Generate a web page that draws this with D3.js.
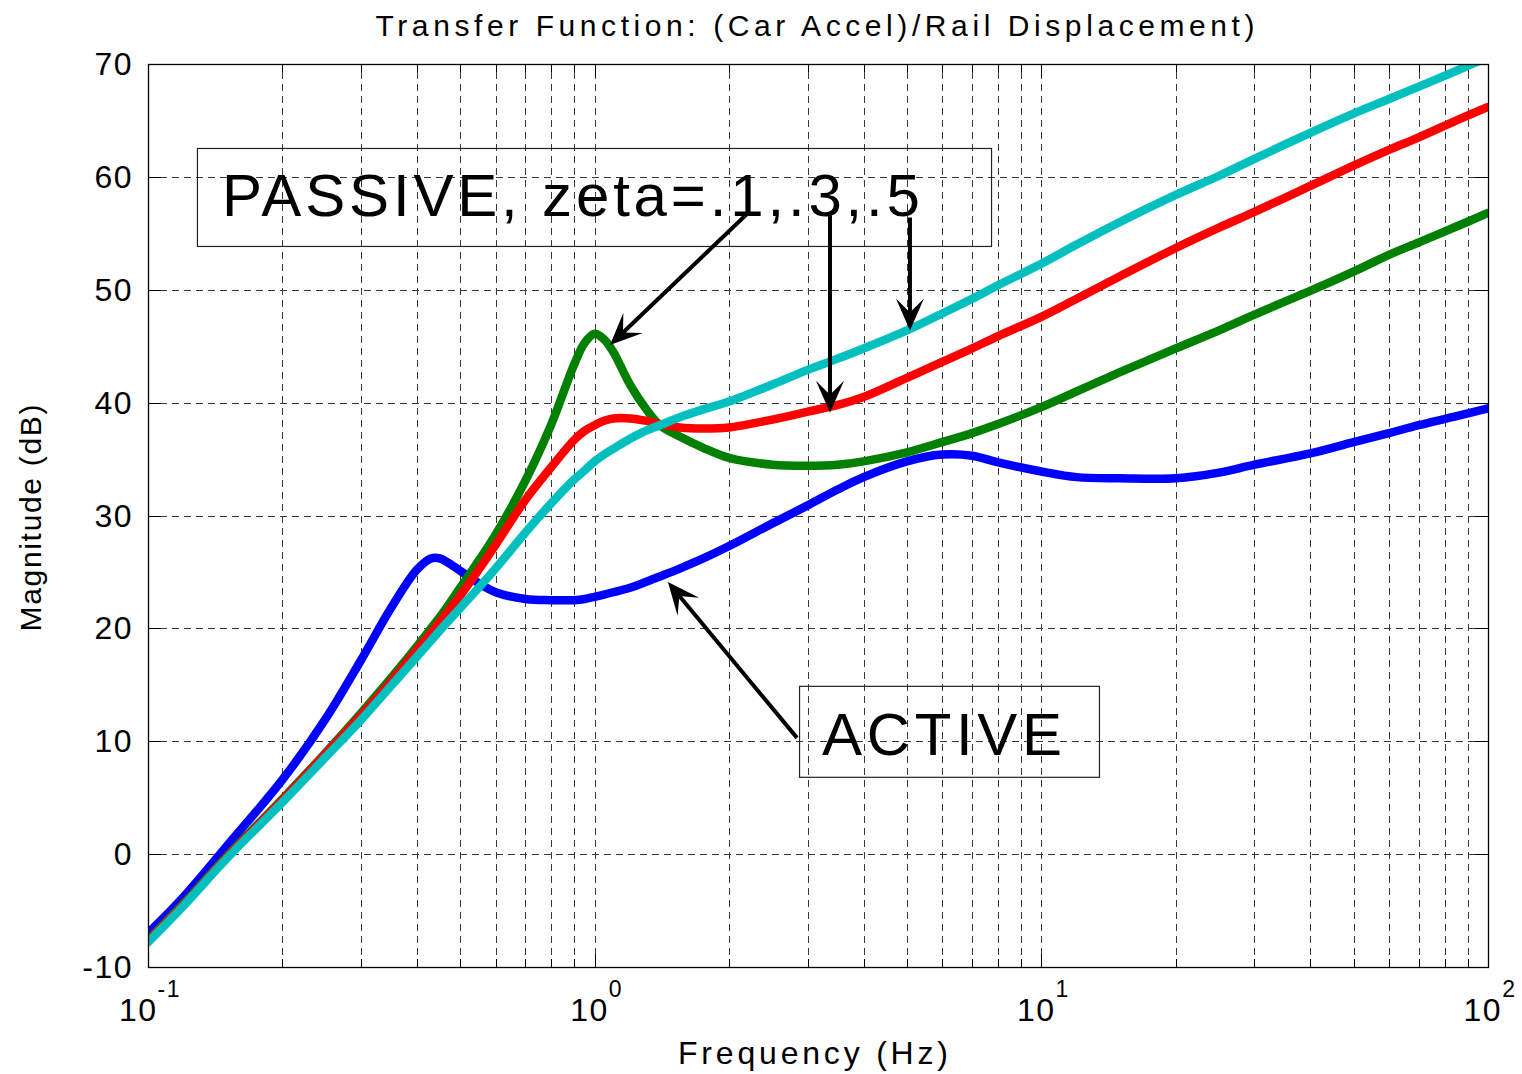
<!DOCTYPE html>
<html>
<head>
<meta charset="utf-8">
<script src="https://cdn.jsdelivr.net/npm/d3@7"></script>
<style>
  html, body { margin: 0; padding: 0; background: #fff; }
  svg { display: block; }
  text { font-family: "Liberation Sans", Arial, Helvetica, sans-serif; fill: #000; }
</style>
</head>
<body>
<svg id="chart" width="1522" height="1074"></svg>
<script>
// ---------------- DATA ----------------
const freq = [0.1, 0.12, 0.15, 0.2, 0.25, 0.3, 0.35, 0.4, 0.43, 0.45, 0.5, 0.55, 0.6, 0.7, 0.8, 0.9, 0.95,
              1.0, 1.05, 1.1, 1.2, 1.3, 1.4, 1.55, 1.75, 2.0, 2.5, 3.0, 3.5, 4.0, 5.0, 6.0, 7.0, 8.0,
              10, 12, 15, 20, 25, 30, 40, 50, 60, 70, 85, 100];

// ACTIVE (blue)
const activeMag = [-7.0, -3.8, 0.7, 6.6, 12.0, 17.2, 21.8, 25.2, 26.2, 26.2, 25.1, 24.0, 23.2, 22.6, 22.5, 22.5, 22.6,
                   22.8, 23.0, 23.2, 23.6, 24.1, 24.6, 25.3, 26.2, 27.3, 29.3, 30.9, 32.3, 33.4, 34.8, 35.4, 35.3, 34.7,
                   33.9, 33.4, 33.3, 33.3, 33.8, 34.5, 35.5, 36.5, 37.3, 38.0, 38.8, 39.5];

// PASSIVE zeta = .1 (green)
const passive1Mag = [-7.6, -4.4, -0.2, 4.9, 9.0, 12.5, 15.6, 18.4, 20.0, 21.0, 23.6, 26.0, 28.3, 33.1, 38.1, 43.4, 45.3,
                     46.1, 45.6, 44.5, 41.6, 39.5, 38.0, 37.0, 36.0, 35.1, 34.5, 34.4, 34.5, 34.8, 35.6, 36.5, 37.3, 38.1,
                     39.6, 41.0, 42.7, 44.8, 46.4, 47.8, 49.9, 51.6, 53.1, 54.2, 55.6, 56.8];

// PASSIVE zeta = .3 (red)
const passive3Mag = [-7.7, -4.5, -0.3, 4.8, 8.9, 12.3, 15.3, 18.1, 19.6, 20.6, 22.9, 25.2, 27.4, 31.4, 34.3, 36.7, 37.5,
                     38.0, 38.4, 38.6, 38.6, 38.4, 38.1, 37.8, 37.7, 37.8, 38.5, 39.2, 39.8, 40.5, 42.2, 43.6, 44.8, 45.9,
                     47.6, 49.2, 51.2, 53.7, 55.5, 56.9, 59.2, 61.0, 62.4, 63.5, 65.0, 66.2];

// PASSIVE zeta = .5 (cyan)
const passive5Mag = [-7.8, -4.6, -0.4, 4.6, 8.6, 11.9, 14.9, 17.5, 18.9, 19.8, 21.8, 23.6, 25.3, 28.5, 31.1, 33.2, 34.0,
                     34.8, 35.4, 35.9, 36.8, 37.5, 38.0, 38.7, 39.4, 40.1, 41.6, 42.9, 43.9, 44.8, 46.4, 47.9, 49.2, 50.4,
                     52.3, 54.0, 56.0, 58.4, 60.1, 61.6, 63.9, 65.6, 66.9, 68.0, 69.4, 70.6];

const seriesNames  = ["ACTIVE", "zeta=.1", "zeta=.3", "zeta=.5"];
const seriesColors = ["#0000ff", "#008000", "#ff0000", "#00bfbf"];
const seriesValues = [activeMag, passive1Mag, passive3Mag, passive5Mag];

const yTicks = [-10, 0, 10, 20, 30, 40, 50, 60, 70];
const xMajorTicks = [0.1, 1, 10, 100];
const xMajorExp = ["-1", "0", "1", "2"];

const titleText = "Transfer Function: (Car Accel)/Rail Displacement)";
const xLabelText = "Frequency (Hz)";
const yLabelText = "Magnitude (dB)";
const passiveText = "PASSIVE, zeta=.1,.3,.5";
const activeText = "ACTIVE";

// annotation arrows in data units: [fromFreq, fromDb, toFreq, toDb]
const arrowsData = [
  [2.204, 56.8, 1.082, 45.1],
  [3.364, 56.6, 3.364, 39.1],
  [5.08, 56.4, 5.08, 46.4],
  [2.838, 10.3, 1.459, 24.1]
];

// ---------------- CHART ----------------
const svg = d3.select("#chart");
const x = d3.scaleLog().domain([0.1, 100]).range([148, 1488]);
const y = d3.scaleLinear().domain([-10, 70]).range([967, 64]);
const [x0, x1] = x.range();
const [yb, yt] = y.range();

// minor x grid positions
const xMinor = [];
for (let d = 0.1; d < 100; d *= 10) {
  for (let k = 2; k <= 9; k++) xMinor.push(+(d * k).toPrecision(3));
}
const xGridAll = xMinor.concat([1, 10]);

// grid
const grid = svg.append("g").attr("stroke", "#3a3a3a").attr("stroke-width", 1)
  .attr("stroke-dasharray", "7,5").attr("shape-rendering", "crispEdges").attr("fill", "none");
grid.selectAll("line.v").data(xGridAll).join("line")
  .attr("x1", d => Math.round(x(d)) + 0.5).attr("x2", d => Math.round(x(d)) + 0.5)
  .attr("y1", yb).attr("y2", yt);
grid.selectAll("line.h").data(yTicks.filter(v => v > -10 && v < 70)).join("line")
  .attr("y1", d => Math.round(y(d)) + 0.5).attr("y2", d => Math.round(y(d)) + 0.5)
  .attr("x1", x0).attr("x2", x1);

// ticks (inward, all four sides)
const ticks = svg.append("g").attr("stroke", "#000").attr("stroke-width", 1).attr("shape-rendering", "crispEdges");
const majL = 13, minL = 8;
yTicks.forEach(v => {
  const yy = Math.round(y(v)) + 0.5;
  ticks.append("line").attr("x1", x0).attr("x2", x0 + majL).attr("y1", yy).attr("y2", yy);
  ticks.append("line").attr("x1", x1 - majL).attr("x2", x1).attr("y1", yy).attr("y2", yy);
});
xMajorTicks.forEach(v => {
  const xx = Math.round(x(v)) + 0.5;
  ticks.append("line").attr("x1", xx).attr("x2", xx).attr("y1", yb).attr("y2", yb - majL);
  ticks.append("line").attr("x1", xx).attr("x2", xx).attr("y1", yt).attr("y2", yt + majL);
});
xMinor.forEach(v => {
  const xx = Math.round(x(v)) + 0.5;
  ticks.append("line").attr("x1", xx).attr("x2", xx).attr("y1", yb).attr("y2", yb - minL);
  ticks.append("line").attr("x1", xx).attr("x2", xx).attr("y1", yt).attr("y2", yt + minL);
});

// clip
svg.append("defs").append("clipPath").attr("id", "plotClip")
  .append("rect").attr("x", x0).attr("y", yt).attr("width", x1 - x0).attr("height", yb - yt);

// curves
const line = d3.line().curve(d3.curveCatmullRom.alpha(0.5)).x(d => x(d[0])).y(d => y(d[1]));
const curves = svg.append("g").attr("clip-path", "url(#plotClip)");
seriesValues.forEach((vals, i) => {
  curves.append("path")
    .datum(freq.map((f, j) => [f, vals[j]]))
    .attr("fill", "none")
    .attr("stroke", seriesColors[i])
    .attr("stroke-width", 8.5)
    .attr("stroke-linejoin", "round")
    .attr("stroke-linecap", "round")
    .attr("d", line);
});

// frame
svg.append("rect").attr("x", x0 + 0.5).attr("y", yt + 0.5).attr("width", x1 - x0).attr("height", yb - yt)
  .attr("fill", "none").attr("stroke", "#000").attr("stroke-width", 1.3);

// y tick labels
svg.append("g").selectAll("text").data(yTicks).join("text")
  .attr("x", x0 - 15).attr("y", d => y(d))
  .attr("text-anchor", "end").attr("dominant-baseline", "central")
  .attr("font-size", 32).attr("letter-spacing", 1.5)
  .text(d => d);

// x tick labels 10^n
xMajorTicks.forEach((v, i) => {
  const t = svg.append("text").attr("x", x(v) + 2).attr("y", 1021)
    .attr("text-anchor", "middle").attr("font-size", 32).attr("letter-spacing", 1.5);
  t.append("tspan").text("10");
  t.append("tspan").attr("dy", -24).attr("font-size", 23).text(xMajorExp[i]);
});

// title & axis labels
svg.append("text").attr("x", 815).attr("y", 36).attr("text-anchor", "middle")
  .attr("font-size", 30).attr("textLength", 879).attr("lengthAdjust", "spacing").text(titleText);
svg.append("text").attr("x", 813).attr("y", 1064).attr("text-anchor", "middle")
  .attr("font-size", 32).attr("textLength", 270).attr("lengthAdjust", "spacing").text(xLabelText);
svg.append("text").attr("transform", "translate(41,518) rotate(-90)").attr("text-anchor", "middle")
  .attr("font-size", 30).attr("textLength", 227).attr("lengthAdjust", "spacing").text(yLabelText);

// annotation boxes (data units)
const passiveBox = [0.1287, 7.716, 62.56, 53.88];
const activeBox = [2.868, 13.46, 14.91, 6.85];
[passiveBox, activeBox].forEach(b => {
  svg.append("rect").attr("x", x(b[0]) + 0.5).attr("y", y(b[2]) + 0.5)
    .attr("width", x(b[1]) - x(b[0])).attr("height", y(b[3]) - y(b[2]))
    .attr("fill", "none").attr("stroke", "#222").attr("stroke-width", 1.2);
});
svg.append("text").attr("x", x(0.1464)).attr("y", y(56.54))
  .attr("font-size", 60).attr("textLength", 698).attr("lengthAdjust", "spacing").text(passiveText);
svg.append("text").attr("x", x(3.228)).attr("y", y(8.80))
  .attr("font-size", 60).attr("textLength", 240).attr("lengthAdjust", "spacing").text(activeText);

// arrows
const arrows = svg.append("g");
arrowsData.forEach(a => {
  const sx = x(a[0]), sy = y(a[1]), ex = x(a[2]), ey = y(a[3]);
  const ang = Math.atan2(ey - sy, ex - sx);
  const ux = Math.cos(ang), uy = Math.sin(ang);
  const px = -uy, py = ux;
  const L = 32, Wd = 14, notch = 18;
  const nx = ex - ux * notch, ny = ey - uy * notch;
  arrows.append("line").attr("x1", sx).attr("y1", sy).attr("x2", nx + ux * 2).attr("y2", ny + uy * 2)
    .attr("stroke", "#000").attr("stroke-width", 4);
  const pts = [
    [ex, ey],
    [ex - ux * L + px * Wd, ey - uy * L + py * Wd],
    [nx, ny],
    [ex - ux * L - px * Wd, ey - uy * L - py * Wd]
  ];
  arrows.append("polygon").attr("points", pts.map(p => p.join(",")).join(" ")).attr("fill", "#000");
});
</script>
</body>
</html>
